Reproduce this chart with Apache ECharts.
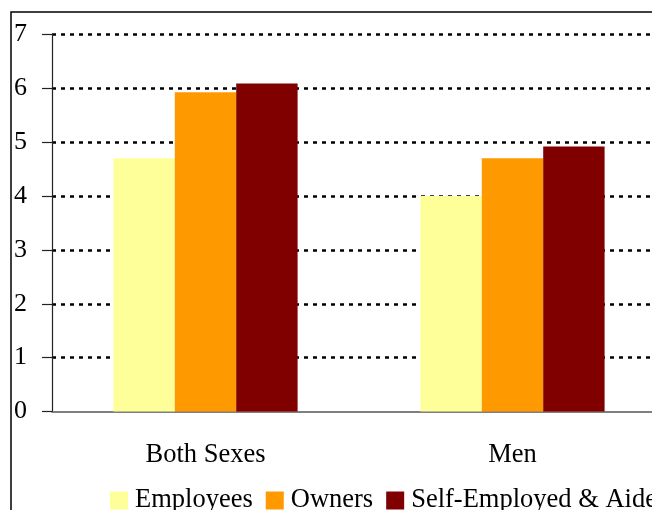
<!DOCTYPE html>
<html>
<head>
<meta charset="utf-8">
<script src="https://cdn.jsdelivr.net/npm/echarts@6/dist/echarts.min.js"></script>
<style>
html,body{margin:0;padding:0;background:#fff;}
#chart{width:652px;height:510px;}
</style>
</head>
<body>
<div id="chart"></div>
<script>
const categories = ['Both Sexes', 'Men'];
const employees = [4.7, 4.0];
const owners = [5.93, 4.7];
const selfEmployed = [6.09, 4.92];
const seriesNames = ['Employees', 'Owners', 'Self-Employed & Aides'];
const yTicks = [0, 1, 2, 3, 4, 5, 6, 7];

const FONT = "'Liberation Serif', 'Times New Roman', serif";
const chart = echarts.init(document.getElementById('chart'));
chart.setOption({
  animation: false,
  backgroundColor: '#fff',
  graphic: [{
    type: 'rect',
    shape: {x: 11, y: 12, width: 1000, height: 1000},
    style: {fill: 'none', stroke: '#000', lineWidth: 1.5},
    z: -1
  }],
  legend: {
    left: 105,
    top: 482,
    width: 1200,
    itemWidth: 18,
    itemHeight: 18,
    itemGap: 13,
    icon: 'rect',
    textStyle: {fontFamily: FONT, fontSize: 26.5, color: '#000', padding: [0, 0, 0, 2]},
    data: seriesNames
  },
  grid: {left: 52, top: 34.5, width: 614, height: 377, outerBoundsMode: 'none', containLabel: false},
  xAxis: {
    type: 'category',
    data: categories,
    axisLine: {lineStyle: {color: '#555', width: 1.5}},
    axisTick: {length: 9, lineStyle: {color: '#555', width: 1.5}},
    axisLabel: {fontFamily: FONT, fontSize: 26.5, color: '#000', margin: 30}
  },
  yAxis: {
    type: 'value',
    min: 0, max: 7, interval: 1,
    axisLine: {show: true, lineStyle: {color: '#222', width: 1.2}},
    axisTick: {show: true, length: 10, lineStyle: {color: '#222', width: 1.2}},
    axisLabel: {fontFamily: FONT, fontSize: 26, color: '#000', margin: 25,
      formatter: v => yTicks.includes(v) ? String(v) : ''},
    splitLine: {showMinLine: false, lineStyle: {color: '#000', width: 2.5, type: [4, 5]}}
  },
  series: [
    {name: seriesNames[0], type: 'bar', data: employees, itemStyle: {color: '#FFFF99'}, barGap: '0%', barCategoryGap: '40%'},
    {name: seriesNames[1], type: 'bar', data: owners, itemStyle: {color: '#FF9900'}, barGap: '0%', barCategoryGap: '40%'},
    {name: seriesNames[2], type: 'bar', data: selfEmployed, itemStyle: {color: '#800000'}, barGap: '0%', barCategoryGap: '40%'}
  ]
});
</script>
</body>
</html>
